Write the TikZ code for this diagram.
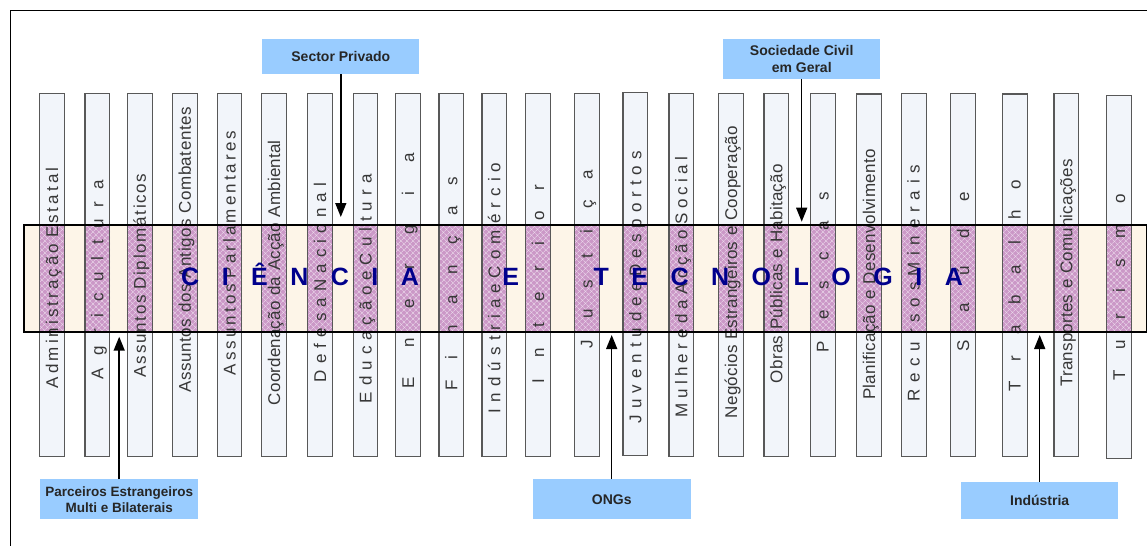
\documentclass[tikz,border=0pt]{standalone}
\usepackage{fontspec}
\setmainfont{Liberation Sans}
\usetikzlibrary{arrows.meta,backgrounds,patterns.meta}

\definecolor{pillarFill}{RGB}{242,245,250}
\definecolor{pillarEdge}{RGB}{88,88,88}
\definecolor{pillarText}{RGB}{55,55,55}
\definecolor{bandCream}{RGB}{253,245,232}
\definecolor{mauve}{RGB}{203,152,199}
\definecolor{mauveMesh}{RGB}{238,222,238}
\definecolor{agencyBlue}{RGB}{153,204,255}
\definecolor{navy}{RGB}{0,0,140}

\begin{document}
\begin{tikzpicture}[x=1pt, y=-1pt,
        pillar/.style={draw=pillarEdge, line width=1.1pt, rotate=90, minimum height=24.7pt, text width=362.7pt, align=left, inner sep=0pt, text height=12pt, text depth=0pt, text=pillarText},
        track/.style={font=\fontsize{17}{20}\selectfont\addfontfeature{LetterSpace=#1}},
        heading/.style={font=\bfseries\fontsize{25}{30}\selectfont\addfontfeature{LetterSpace=90}, text=navy, inner sep=0pt},
        agency/.style={fill=agencyBlue, font=\bfseries\fontsize{14}{16.5}\selectfont, align=center, inner sep=0pt, text=black!85},
        feeds/.style={-{Triangle[length=14pt, width=11pt]}, line width=1.5pt, draw=black}
      ]
      \useasboundingbox (0,0) rectangle (1147,546);
      \draw[line width=0.9pt] (1147,10.5) -- (10.5,10.5) -- (10.5,546);

      \coordinate (bandNW) at (24,225);
      \coordinate (bandSE) at (1146.5,332);

      \node[pillar, track=18] (c1) at (52.2,274.7) {\hspace*{68pt}Administração Estatal};
      \node[pillar, track=69] (c2) at (97.3,274.7) {\hspace*{77pt}Agricultura};
      \node[pillar, track=10] (c3) at (139.8,274.7) {\hspace*{79pt}Assuntos Diplomáticos};
      \node[pillar, track=3] (c4) at (184.8,274.7) {\hspace*{64pt}Assuntos dos Antigos Combatentes};
      \node[pillar, track=18] (c5) at (229.5,274.7) {\hspace*{81pt}Assuntos Parlamentares};
      \node[pillar, track=1] (c6) at (274,274.7) {\hspace*{51pt}Coordenação da Acção Ambiental};
      \node[pillar, track=36] (c7) at (320,274.7) {\hspace*{74pt}Defesa Nacional};
      \node[pillar, track=35] (c8) at (365.5,274.7) {\hspace*{53pt}Educação e Cultura};
      \node[pillar, track=173] (c9) at (408,274.7) {\hspace*{68pt}Energia};
      \node[pillar, track=121] (c10) at (451.3,274.7) {\hspace*{66pt}Finanças};
      \node[pillar, track=36] (c11) at (494.3,274.7) {\hspace*{43pt}Indústria e Comércio};
      \node[pillar, track=122] (c12) at (538,274.7) {\hspace*{73pt}Interior};
      \node[pillar, track=123] (c13) at (586.7,274.7) {\hspace*{108pt}Justiça};
      \node[pillar, track=35] (c14) at (635.3,273.7) {\hspace*{32pt}Juventude e Desportos};
      \node[pillar, track=25] (c15) at (681.3,274.7) {\hspace*{39pt}Mulher e da Acção Social};
      \node[pillar, track=1.5] (c16) at (731,274.7) {\hspace*{38pt}Negócios Estrangeiros e Cooperação};
      \node[pillar, track=1.7] (c17) at (776.3,274.7) {\hspace*{73pt}Obras Públicas e Habitação};
      \node[pillar, track=123] (c18) at (822.7,274.7) {\hspace*{104pt}Pescas};
      \node[pillar, track=1.8] (c19) at (869,275.3) {\hspace*{56.7pt}Planificação e Desenvolvimento};
      \node[pillar, track=40] (c20) at (913.7,274.7) {\hspace*{54.3pt}Recursos Minerais};
      \node[pillar, track=163] (c21) at (963,274.7) {\hspace*{104.3pt}Saúde};
      \node[pillar, track=122] (c22) at (1014.7,275.3) {\hspace*{65pt}Trabalho};
      \node[pillar, track=1.2] (c23) at (1066.3,274.7) {\hspace*{69.3pt}Transportes e Comunicações};
      \node[pillar, track=123] (c24) at (1119,276.7) {\hspace*{78pt}Turismo};

      \begin{scope}[on background layer]
        \fill[bandCream] (bandNW) rectangle (bandSE);
        \foreach \i in {1,...,24}
          \fill[pillarFill] (c\i.south west) rectangle (c\i.north east);
        \clip (bandNW) rectangle (bandSE);
        \foreach \i in {1,...,24} {
          \fill[mauve] (c\i.south west) rectangle (c\i.north east);
          \fill[pattern={Lines[angle=45, distance=4pt, line width=0.5pt]}, pattern color=mauveMesh] (c\i.south west) rectangle (c\i.north east);
          \fill[pattern={Lines[angle=-45, distance=4pt, line width=0.5pt]}, pattern color=mauveMesh] (c\i.south west) rectangle (c\i.north east);
        }
      \end{scope}

      \draw[line width=1.2pt] (bandNW) rectangle (bandSE);
      \node[heading, anchor=base west] (science) at (181,285) {CIÊNCIA\hspace{83.5pt}E\hspace{74.5pt}TECNOLOGIA};

      \node[agency, minimum width=157pt, minimum height=34.7pt] (private) at (340.8,56.7) {Sector Privado};
      \node[agency, minimum width=156.7pt, minimum height=39.4pt] (civil) at (801.7,59) {Sociedade Civil\\em Geral};
      \node[agency, minimum width=158.3pt, minimum height=39.7pt, font=\bfseries\fontsize{13.5}{16}\selectfont] (partners) at (119.2,499.2) {Parceiros Estrangeiros\\Multi e Bilaterais};
      \node[agency, minimum width=158pt, minimum height=39.7pt] (ngos) at (611.7,499.2) {ONGs};
      \node[agency, minimum width=157.3pt, minimum height=37.3pt] (industry) at (1039.7,500.7) {Indústria};

      \coordinate (privateIn) at (340.8,217);
      \coordinate (civilIn) at (801.7,221.7);
      \coordinate (partnersIn) at (119.2,336.7);
      \coordinate (ngosIn) at (611.7,335);
      \coordinate (industryIn) at (1039.7,335);

      \draw[feeds] (private) -- (privateIn);
      \draw[feeds] (civil) -- (civilIn);
      \draw[feeds] (partners) -- (partnersIn);
      \draw[feeds] (ngos) -- (ngosIn);
      \draw[feeds] (industry) -- (industryIn);
    \end{tikzpicture}
\end{document}
